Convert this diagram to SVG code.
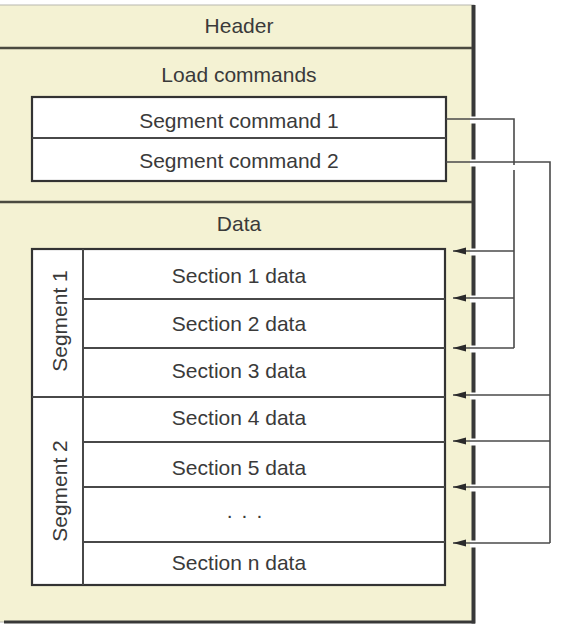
<svg xmlns="http://www.w3.org/2000/svg" width="574" height="626" viewBox="0 0 574 626">
<style>
text{font-family:"Liberation Sans",Arial,sans-serif;font-size:21px;fill:#3a3a3a;text-anchor:middle}
.box{fill:#ffffff;stroke:#333333;stroke-width:2.2}
.div{stroke:#484848;stroke-width:2;fill:none}
.pdiv{stroke:#4a4a40;stroke-width:2.5;fill:none}
.con{stroke:#4a4a4a;stroke-width:1.6;fill:none}
.arr{stroke:#4a4a4a;stroke-width:1.6;fill:none;marker-end:url(#ah)}
.halo{stroke:#ffffff;stroke-width:7;fill:none}
</style>
<defs>
<marker id="ah" markerWidth="14" markerHeight="8" refX="13" refY="4" orient="auto" markerUnits="userSpaceOnUse">
<path d="M0,0.5 L13,4 L0,7.5 Z" fill="#2a2a2a"/>
</marker>
</defs>
<rect x="0" y="0" width="574" height="626" fill="#ffffff"/>
<g id="panel">
<rect x="-2" y="5" width="476" height="617" fill="#f4f2d3" stroke="#b8b8b0" stroke-width="1"/>
<line x1="473.5" y1="5" x2="473.5" y2="623.5" stroke="#383838" stroke-width="4"/>
<line x1="4" y1="622" x2="475" y2="622" stroke="#383838" stroke-width="3"/>
<line class="pdiv" x1="0" y1="48" x2="472" y2="48"/>
<line class="pdiv" x1="0" y1="202" x2="472" y2="202"/>
</g>
<g id="header"><text x="239" y="33">Header</text></g>
<g id="load-commands"><text x="239" y="82">Load commands</text></g>
<g id="segment-commands">
<rect class="box" x="32" y="97" width="414" height="84"/>
<line class="div" x1="32" y1="138" x2="446" y2="138"/>
<text x="239" y="128">Segment command 1</text>
<text x="239" y="168">Segment command 2</text>
</g>
<g id="data"><text x="239" y="231">Data</text></g>
<g id="sections">
<rect class="box" x="32" y="249" width="413" height="336"/>
<line class="div" x1="83" y1="249" x2="83" y2="585"/>
<line class="div" x1="83" y1="299" x2="445" y2="299"/>
<line class="div" x1="83" y1="348" x2="445" y2="348"/>
<line class="div" x1="32" y1="397" x2="445" y2="397"/>
<line class="div" x1="83" y1="442" x2="445" y2="442"/>
<line class="div" x1="83" y1="487" x2="445" y2="487"/>
<line class="div" x1="83" y1="542" x2="445" y2="542"/>
<text x="239" y="283">Section 1 data</text>
<text x="239" y="331">Section 2 data</text>
<text x="239" y="378">Section 3 data</text>
<text x="239" y="425">Section 4 data</text>
<text x="239" y="475">Section 5 data</text>
<text x="249" y="518" style="letter-spacing:9px">...</text>
<text x="239" y="570">Section n data</text>
</g>
<g id="segment-1"><text transform="translate(67,321) rotate(-90)">Segment 1</text></g>
<g id="segment-2"><text transform="translate(67,491) rotate(-90)">Segment 2</text></g>
<g id="connectors">
<g>
<line class="halo" x1="470" y1="120" x2="478" y2="120"/>
<line class="halo" x1="470" y1="163" x2="478" y2="163"/>
<line class="halo" x1="470" y1="252" x2="478" y2="252"/>
<line class="halo" x1="470" y1="299" x2="478" y2="299"/>
<line class="halo" x1="470" y1="349" x2="478" y2="349"/>
<line class="halo" x1="470" y1="396" x2="478" y2="396"/>
<line class="halo" x1="470" y1="442" x2="478" y2="442"/>
<line class="halo" x1="470" y1="488" x2="478" y2="488"/>
<line class="halo" x1="470" y1="544" x2="478" y2="544"/>
</g>
<path class="con" d="M446,119 H514 V348"/>
<line class="arr" x1="514" y1="251" x2="453" y2="251"/>
<line class="arr" x1="514" y1="298" x2="453" y2="298"/>
<line class="arr" x1="514" y1="348" x2="453" y2="348"/>
<line class="halo" x1="514" y1="165" x2="514" y2="170" style="stroke-width:4"/>
<path class="con" d="M446,162 H550 V543"/>
<line class="arr" x1="550" y1="395" x2="453" y2="395"/>
<line class="arr" x1="550" y1="441" x2="453" y2="441"/>
<line class="arr" x1="550" y1="487" x2="453" y2="487"/>
<line class="arr" x1="550" y1="543" x2="453" y2="543"/>
</g>
</svg>
